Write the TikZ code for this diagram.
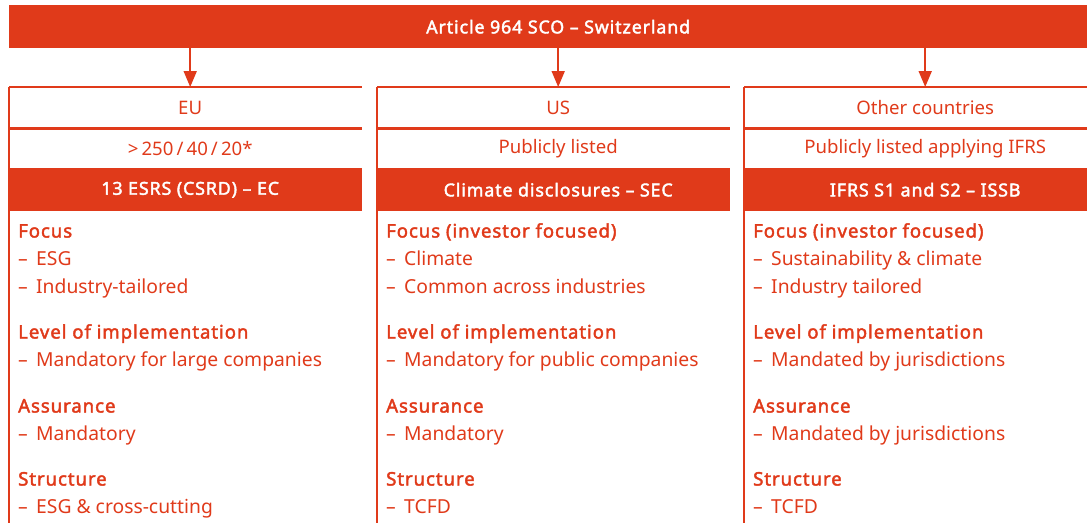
\documentclass[tikz,border=0pt]{standalone}
\usepackage{fontspec}
\setmainfont{Noto Sans}[BoldFont={Noto Sans},BoldFeatures={FakeBold=2.2,LetterSpace=5}]
\usetikzlibrary{arrows.meta}
\definecolor{brand}{HTML}{E03A1A}
\begin{document}
\begin{tikzpicture}[x=1pt,y=-1pt,
  bar/.style={fill=brand,text=white,font=\fontsize{17.8}{20}\selectfont\bfseries,inner sep=0,anchor=north west,minimum width=353,minimum height=43},
  rowbox/.style={text=brand,font=\fontsize{18.6}{20}\selectfont,inner sep=0,anchor=north west,minimum width=353},
  rule/.style={draw=brand,line width=2.4pt},
  vrule/.style={draw=brand,line width=2pt},
  arr/.style={draw=brand,line width=1.8pt,-{Triangle[length=16pt,width=13pt]}},
  txt/.style={text=brand,inner sep=0,anchor=west,text height=13pt,text depth=4pt,yshift=-2pt},
  head/.style={txt,font=\fontsize{18.6}{20}\selectfont\bfseries},
  bullet/.style={txt,font=\fontsize{19.3}{20}\selectfont},
  item/.style={txt,font=\fontsize{19.3}{20}\selectfont}]
\useasboundingbox (0,0) rectangle (1087,523);
\node[bar,minimum width=1097,minimum height=43] (top) at (9,5) {\hspace*{1pt}Article 964 SCO – Switzerland};

% column 1
\node[rowbox,minimum height=41] (t1) at (9,87) {\hspace*{9pt}EU};
\node[rowbox,minimum height=40] (s1) at (9,128) {\hspace*{9pt}\raisebox{-1.5pt}{>\,250\,/\,40\,/\,20*}};
\node[bar] (h1) at (9,168) {\hspace*{9pt}13 ESRS (CSRD) – EC};
% column 2
\node[rowbox,minimum height=41] (t2) at (377,87) {\hspace*{9pt}US};
\node[rowbox,minimum height=40] (s2) at (377,128) {\hspace*{9pt}\raisebox{-1.5pt}{Publicly listed}};
\node[bar] (h2) at (377,168) {\hspace*{9pt}Climate disclosures – SEC};
% column 3
\node[rowbox,minimum height=41] (t3) at (744,87) {\hspace*{9pt}Other countries};
\node[rowbox,minimum height=40] (s3) at (744,128) {\hspace*{9pt}\raisebox{-1.5pt}{Publicly listed applying IFRS}};
\node[bar] (h3) at (744,168) {\hspace*{9pt}IFRS S1 and S2 – ISSB};

\foreach \c in {1,2,3}{
  \draw[rule] (t\c.north west) -- (t\c.north east);
  \draw[rule] (t\c.south west) -- (t\c.south east);
  \draw[vrule] (t\c.north west) -- (t\c.north west |- {(0,523)});
  \coordinate (m\c) at ([xshift=4.5pt]t\c.north);
  \draw[arr] (top.south -| m\c) -- (m\c);
}

\foreach \L/\col in {9/1,377/2,744/3}{
  \coordinate (b\col) at (\L,0);
}
% column 1
\node[head] (f1) at ([xshift=9]b1 |- {(0,231)}) {Focus};
\node[bullet] (f1d1) at ([xshift=9]b1 |- {(0,259)}) {–};
\node[item] (f1i1) at ([xshift=27]b1 |- {(0,259)}) {ESG};
\node[bullet] (f1d2) at ([xshift=9]b1 |- {(0,287)}) {–};
\node[item] (f1i2) at ([xshift=27]b1 |- {(0,287)}) {Industry-tailored};
\node[head] (l1) at ([xshift=9]b1 |- {(0,332)}) {Level of implementation};
\node[bullet] (l1d1) at ([xshift=9]b1 |- {(0,360)}) {–};
\node[item] (l1i1) at ([xshift=27]b1 |- {(0,360)}) {Mandatory for large companies};
\node[head] (a1) at ([xshift=9]b1 |- {(0,406)}) {Assurance};
\node[bullet] (a1d1) at ([xshift=9]b1 |- {(0,434)}) {–};
\node[item] (a1i1) at ([xshift=27]b1 |- {(0,434)}) {Mandatory};
\node[head] (st1) at ([xshift=9]b1 |- {(0,479)}) {Structure};
\node[bullet] (st1d1) at ([xshift=9]b1 |- {(0,507)}) {–};
\node[item] (st1i1) at ([xshift=27]b1 |- {(0,507)}) {ESG \& cross-cutting};
% column 2
\node[head] (f2) at ([xshift=9]b2 |- {(0,231)}) {Focus (investor focused)};
\node[bullet] (f2d1) at ([xshift=9]b2 |- {(0,259)}) {–};
\node[item] (f2i1) at ([xshift=27]b2 |- {(0,259)}) {Climate};
\node[bullet] (f2d2) at ([xshift=9]b2 |- {(0,287)}) {–};
\node[item] (f2i2) at ([xshift=27]b2 |- {(0,287)}) {Common across industries};
\node[head] (l2) at ([xshift=9]b2 |- {(0,332)}) {Level of implementation};
\node[bullet] (l2d1) at ([xshift=9]b2 |- {(0,360)}) {–};
\node[item] (l2i1) at ([xshift=27]b2 |- {(0,360)}) {Mandatory for public companies};
\node[head] (a2) at ([xshift=9]b2 |- {(0,406)}) {Assurance};
\node[bullet] (a2d1) at ([xshift=9]b2 |- {(0,434)}) {–};
\node[item] (a2i1) at ([xshift=27]b2 |- {(0,434)}) {Mandatory};
\node[head] (st2) at ([xshift=9]b2 |- {(0,479)}) {Structure};
\node[bullet] (st2d1) at ([xshift=9]b2 |- {(0,507)}) {–};
\node[item] (st2i1) at ([xshift=27]b2 |- {(0,507)}) {TCFD};
% column 3
\node[head] (f3) at ([xshift=9]b3 |- {(0,231)}) {Focus (investor focused)};
\node[bullet] (f3d1) at ([xshift=9]b3 |- {(0,259)}) {–};
\node[item] (f3i1) at ([xshift=27]b3 |- {(0,259)}) {Sustainability \& climate};
\node[bullet] (f3d2) at ([xshift=9]b3 |- {(0,287)}) {–};
\node[item] (f3i2) at ([xshift=27]b3 |- {(0,287)}) {Industry tailored};
\node[head] (l3) at ([xshift=9]b3 |- {(0,332)}) {Level of implementation};
\node[bullet] (l3d1) at ([xshift=9]b3 |- {(0,360)}) {–};
\node[item] (l3i1) at ([xshift=27]b3 |- {(0,360)}) {Mandated by jurisdictions};
\node[head] (a3) at ([xshift=9]b3 |- {(0,406)}) {Assurance};
\node[bullet] (a3d1) at ([xshift=9]b3 |- {(0,434)}) {–};
\node[item] (a3i1) at ([xshift=27]b3 |- {(0,434)}) {Mandated by jurisdictions};
\node[head] (st3) at ([xshift=9]b3 |- {(0,479)}) {Structure};
\node[bullet] (st3d1) at ([xshift=9]b3 |- {(0,507)}) {–};
\node[item] (st3i1) at ([xshift=27]b3 |- {(0,507)}) {TCFD};
\end{tikzpicture}
\end{document}
